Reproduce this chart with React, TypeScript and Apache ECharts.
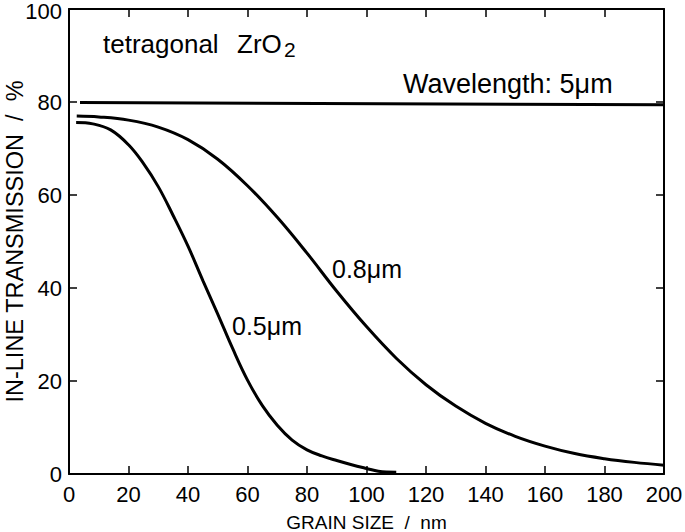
import React, { useEffect, useRef } from "react";
import * as echarts from "echarts";

const FONT = "'Liberation Sans', Arial, Helvetica, sans-serif";

const xTicks = [0, 200, 20]; // min, max, interval
const yTicks = [0, 100, 20];

const wave5um: [number, number][] = [
  [3.7, 79.9],
  [200, 79.4],
];

const wave08um: [number, number][] = [
  [2.6, 77.0], [10, 76.8], [20, 76.1], [30, 74.6], [40, 71.9], [50, 67.7],
  [60, 62.0], [70, 55.2], [80, 47.5], [90, 39.3], [100, 31.7], [110, 24.9],
  [120, 19.2], [130, 14.6], [140, 10.9], [150, 8.1], [160, 6.0], [170, 4.4],
  [180, 3.3], [190, 2.5], [200, 1.9],
];

const wave05um: [number, number][] = [
  [2.4, 75.6], [8, 75.3], [14, 74.0], [20, 70.8], [25, 66.8], [30, 61.8],
  [35, 55.6], [40, 49.0], [45, 41.6], [50, 34.4], [55, 27.0], [60, 20.2],
  [65, 14.7], [70, 10.5], [75, 7.3], [80, 5.2], [85, 3.9], [90, 2.9],
  [95, 2.0], [100, 1.2], [104, 0.6], [110, 0.4],
];

const xTitle = "GRAIN SIZE  /  nm";
const yTitle = "IN-LINE TRANSMISSION  /  %";

export default function App() {
  const ref = useRef<HTMLDivElement>(null);
  useEffect(() => {
    if (!ref.current) return;
    const chart = echarts.init(ref.current, null, { renderer: "svg" });
    const axisLine = { show: true, onZero: false, lineStyle: { color: "#000", width: 2 } };
    const axisTick = { show: true, inside: true, length: 8, lineStyle: { color: "#000", width: 1.5 } };
    const label = { color: "#000", fontSize: 22, fontFamily: FONT };
    const line = (data: [number, number][]) => ({
      type: "line",
      data,
      showSymbol: false,
      smooth: 0.4,
      lineStyle: { color: "#000", width: 3 },
      xAxisIndex: 0,
      yAxisIndex: 0,
    });
    const txt = (text: string, x: number, y: number, fontSize: number) => ({
      type: "text", x, y,
      style: { text, fontSize, fontFamily: FONT, fill: "#000", verticalAlign: "middle" },
    });
    chart.setOption({
      animation: false,
      backgroundColor: "#fff",
      grid: { left: 69, right: 21, top: 9, bottom: 58, containLabel: false, outerBoundsMode: "none" },
      xAxis: [
        {
          type: "value", min: xTicks[0], max: xTicks[1], interval: xTicks[2],
          position: "bottom", axisLine, axisTick, splitLine: { show: false },
          axisLabel: { ...label, margin: 9 },
          name: xTitle, nameLocation: "middle", nameGap: 39, nameMoveOverlap: false,
          nameTextStyle: { color: "#000", fontSize: 19, fontFamily: FONT },
        },
        {
          type: "value", min: xTicks[0], max: xTicks[1], interval: xTicks[2],
          position: "top", axisLine, axisTick, splitLine: { show: false },
          axisLabel: { show: false },
        },
      ],
      yAxis: [
        {
          type: "value", min: yTicks[0], max: yTicks[1], interval: yTicks[2],
          position: "left", axisLine, axisTick, splitLine: { show: false },
          axisLabel: {
            ...label, margin: 7,
            formatter: (v: number) => (v === yTicks[1] ? `{top|${v}}` : `${v}`),
            rich: { top: { color: "#000", fontSize: 22, fontFamily: FONT, padding: [4, 0, 0, 0] } },
          },
          name: yTitle, nameLocation: "middle", nameGap: 42, nameMoveOverlap: false,
          nameTextStyle: { color: "#000", fontSize: 23.5, fontFamily: FONT },
        },
        {
          type: "value", min: yTicks[0], max: yTicks[1], interval: yTicks[2],
          position: "right", axisLine, axisTick, splitLine: { show: false },
          axisLabel: { show: false },
        },
      ],
      series: [line(wave5um), line(wave08um), line(wave05um)],
      graphic: [
        txt("tetragonal", 103, 44, 26),
        txt("ZrO", 237, 44, 26),
        txt("2", 284, 49, 21),
        txt("Wavelength: 5μm", 403, 84, 27),
        txt("0.8μm", 332, 269, 25),
        txt("0.5μm", 232, 326, 25),
      ],
    });
    return () => chart.dispose();
  }, []);
  return (
    <div
      ref={ref}
      style={{ position: "absolute", left: 0, top: 0, width: 685, height: 532, background: "#fff" }}
    />
  );
}
